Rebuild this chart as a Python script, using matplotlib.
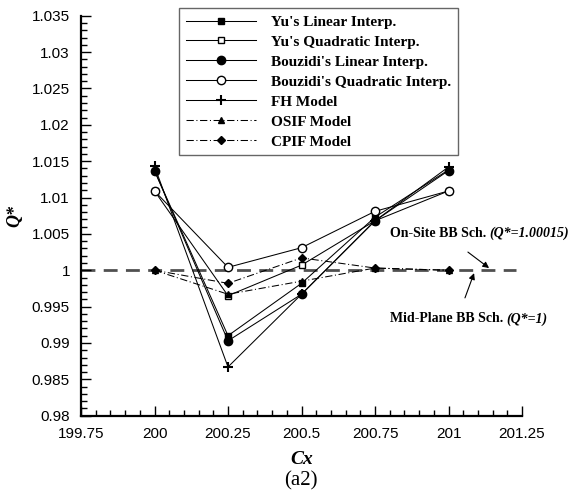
import numpy as np
import matplotlib.pyplot as plt
from matplotlib.ticker import MultipleLocator, FixedFormatter, FixedLocator

plt.rcParams['font.family'] = 'Liberation Sans'

SERIF = 'Liberation Serif'

# Q* against the cylinder position Cx for each boundary scheme
cx = [200.0, 200.25, 200.5, 200.75, 201.0]
yu_linear = [1.0137, 0.9910, 0.9982, 1.0073, 1.0138]
yu_quadratic = [1.0109, 0.9965, 1.0007, 1.0068, 1.0109]
bouzidi_linear = [1.0137, 0.9903, 0.9967, 1.0068, 1.0137]
bouzidi_quadratic = [1.0109, 1.0004, 1.0031, 1.0081, 1.0109]
fh_model = [1.0143, 0.9867, 0.9967, 1.0068, 1.0142]
osif_model = [1.0000, 0.9967, 0.9985, 1.0003, 1.0000]
cpif_model = [1.0000, 0.9982, 1.0017, 1.0003, 1.0000]
bb_reference = 1.0

x_ticks = [199.75, 200, 200.25, 200.5, 200.75, 201, 201.25]
x_labels = ['199.75', '200', '200.25', '200.5', '200.75', '201', '201.25']
y_ticks = [0.98, 0.985, 0.99, 0.995, 1.0, 1.005, 1.01, 1.015, 1.02, 1.025, 1.03, 1.035]
y_labels = ['0.98', '0.985', '0.99', '0.995', '1', '1.005', '1.01', '1.015', '1.02', '1.025', '1.03', '1.035']

fig = plt.figure(figsize=(5.76, 4.92), dpi=100)
ax = fig.add_axes([81 / 576, 1 - 415.7 / 492, 441 / 576, 400 / 492])

# mid-plane bounce-back reference level
ax.plot([199.75, 201.23], [bb_reference, bb_reference], color='#505050', lw=2.0,
        ls=(0, (5, 3)), zorder=1)

lw = 0.75
ax.plot(cx, yu_linear, '-', color='k', lw=lw, marker='s', ms=4.8, mfc='k', label="Yu's Linear Interp.", zorder=3)
ax.plot(cx, yu_quadratic, '-', color='k', lw=lw, marker='s', ms=4.8, mfc='white', label="Yu's Quadratic Interp.", zorder=3)
ax.plot(cx, bouzidi_linear, '-', color='k', lw=lw, marker='o', ms=6, mfc='k', label="Bouzidi's Linear Interp.", zorder=3)
ax.plot(cx, bouzidi_quadratic, '-', color='k', lw=lw, marker='o', ms=6, mfc='white', label="Bouzidi's Quadratic Interp.", zorder=3)
ax.plot(cx, fh_model, '-', color='k', lw=lw, marker='+', ms=7, mew=1.5, label='FH Model', zorder=3)
ax.plot(cx, osif_model, color='k', lw=lw, ls=(0, (7, 2.5, 1, 2.5)), marker='^', ms=5, mfc='k', label='OSIF Model', zorder=3)
ax.plot(cx, cpif_model, color='k', lw=lw, ls=(0, (7, 2.5, 1, 2.5)), marker='D', ms=4.5, mfc='k', label='CPIF Model', zorder=3)

ax.set_xlim(199.75, 201.25)
ax.set_ylim(0.98, 1.035)
ax.xaxis.set_major_locator(FixedLocator(x_ticks))
ax.xaxis.set_major_formatter(FixedFormatter(x_labels))
ax.yaxis.set_major_locator(FixedLocator(y_ticks))
ax.yaxis.set_major_formatter(FixedFormatter(y_labels))
ax.xaxis.set_minor_locator(MultipleLocator(0.05))
ax.yaxis.set_minor_locator(MultipleLocator(0.001))
ax.tick_params(which='major', direction='in', length=7.5, width=1.0, labelsize=11)
ax.tick_params(axis='x', which='major', pad=8)
ax.tick_params(axis='y', which='major', pad=8)
ax.tick_params(which='minor', direction='in', length=4, width=1.0)
ax.tick_params(top=False, right=False, which='both')
for side in ['top', 'right']:
    ax.spines[side].set_visible(False)
for side in ['left', 'bottom']:
    ax.spines[side].set_linewidth(1.6)

ax.set_ylabel('Q*', family=SERIF, fontsize=13, fontweight='bold', style='italic', labelpad=6)
ax.set_xlabel('Cx', family=SERIF, fontsize=14, fontweight='bold', style='italic', labelpad=7)
fig.text(301 / 576, 1 - 481 / 492, '(a2)', family=SERIF, fontsize=15, ha='center', va='center')

leg = ax.legend(loc='upper left', bbox_to_anchor=(0.222, 1.0185), handlelength=4.6,
                handletextpad=1.0, labelspacing=0.41, borderpad=0.45, borderaxespad=0,
                fancybox=False, frameon=True, edgecolor='#404040',
                prop={'family': SERIF, 'weight': 'bold', 'size': 11})
leg.get_frame().set_linewidth(1.0)

# labels for the two bounce-back levels
t1 = ax.text(200.801, 1.0051, 'On-Site BB Sch. ', family=SERIF, fontsize=10, fontweight='bold',
             va='center', ha='left', clip_on=False)
ax.annotate('(Q*=1.00015)', xy=(1, 0.5), xycoords=t1, va='center', ha='left', family=SERIF,
            fontsize=10, fontweight='bold', style='italic', annotation_clip=False)
t2 = ax.text(200.801, 0.9933, 'Mid-Plane BB Sch. ', family=SERIF, fontsize=10, fontweight='bold',
             va='center', ha='left')
ax.annotate('(Q*=1)', xy=(1, 0.5), xycoords=t2, va='center', ha='left', family=SERIF,
            fontsize=10, fontweight='bold', style='italic')

ax.annotate('', xy=(201.138, 1.0003), xytext=(201.066, 1.0025),
            arrowprops=dict(arrowstyle='-|>', color='k', lw=0.8, mutation_scale=9, shrinkA=0, shrinkB=0))
ax.annotate('', xy=(201.087, 0.9996), xytext=(201.056, 0.9962),
            arrowprops=dict(arrowstyle='-|>', color='k', lw=0.8, mutation_scale=9, shrinkA=0, shrinkB=0))

fig.savefig('out.png', dpi=100)
